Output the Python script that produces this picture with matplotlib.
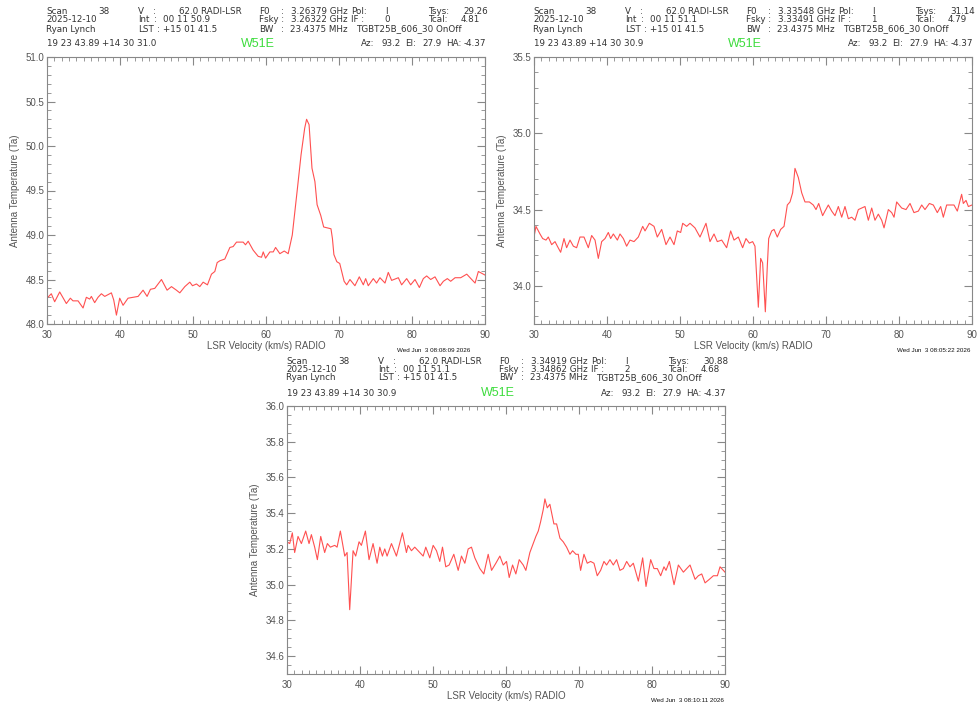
import matplotlib
matplotlib.use("Agg")
import matplotlib.pyplot as plt
from matplotlib.ticker import MultipleLocator, FormatStrFormatter

plt.rcParams['font.family'] = ['Liberation Sans', 'DejaVu Sans']

# spectrum, IF 0
vel1 = [30.00, 30.59, 31.05, 31.74, 32.65, 33.20, 33.56, 34.25, 34.94, 35.39,
        35.85, 36.08, 36.53, 36.99, 37.45, 37.91, 38.82, 39.14, 39.51, 39.96,
        40.42, 41.10, 41.79, 42.48, 43.16, 43.71, 44.17, 44.76, 45.68, 46.45,
        47.05, 47.73, 48.19, 48.88, 49.56, 49.93, 50.48, 50.93, 51.39, 51.98,
        52.53, 52.99, 53.31, 53.67, 54.36, 55.05, 55.50, 55.96, 56.87, 57.19,
        57.56, 58.24, 58.93, 59.39, 59.62, 59.94, 60.53, 60.99, 61.31, 61.90,
        62.50, 63.04, 63.60, 64.30, 64.80, 65.30, 65.56, 65.90, 66.30, 66.70,
        67.00, 67.50, 67.90, 68.90, 69.10, 69.30, 69.70, 70.10, 70.70, 71.05,
        71.50, 72.18, 72.78, 73.33, 73.65, 74.01, 74.70, 75.15, 75.61, 76.30,
        76.75, 77.21, 78.13, 78.58, 79.27, 79.82, 80.41, 81.01, 81.55, 82.01,
        82.56, 83.15, 83.84, 84.30, 84.84, 85.30, 85.90, 86.67, 87.50, 88.18,
        88.64, 89.09, 90.00]
temp1 = [48.29, 48.34, 48.25, 48.36, 48.23, 48.29, 48.26, 48.26, 48.18, 48.30,
         48.28, 48.31, 48.24, 48.30, 48.34, 48.31, 48.35, 48.27, 48.10, 48.29,
         48.21, 48.29, 48.30, 48.31, 48.38, 48.31, 48.39, 48.40, 48.50, 48.38,
         48.42, 48.38, 48.35, 48.42, 48.47, 48.43, 48.45, 48.42, 48.47, 48.44,
         48.56, 48.59, 48.69, 48.71, 48.73, 48.86, 48.87, 48.92, 48.92, 48.89,
         48.93, 48.83, 48.76, 48.75, 48.81, 48.74, 48.81, 48.81, 48.86, 48.79,
         48.82, 48.79, 49.00, 49.52, 49.90, 50.20, 50.30, 50.24, 49.75, 49.60,
         49.34, 49.22, 49.09, 49.07, 48.96, 48.78, 48.70, 48.68, 48.48, 48.44,
         48.50, 48.43, 48.53, 48.44, 48.51, 48.43, 48.51, 48.46, 48.52, 48.46,
         48.58, 48.49, 48.52, 48.44, 48.51, 48.44, 48.50, 48.41, 48.51, 48.54,
         48.50, 48.53, 48.43, 48.48, 48.51, 48.48, 48.52, 48.52, 48.56, 48.50,
         48.46, 48.59, 48.55]

# spectrum, IF 1
vel2 = [30.00, 30.27, 30.82, 31.19, 31.64, 31.96, 32.42, 32.88, 33.20, 33.65,
        34.11, 34.47, 34.93, 35.39, 35.84, 36.30, 36.85, 37.44, 37.90, 38.36,
        38.81, 39.27, 39.73, 40.18, 40.50, 40.87, 41.42, 41.78, 42.24, 42.69,
        43.15, 43.70, 44.29, 44.89, 45.21, 45.80, 46.44, 46.89, 47.49, 48.08,
        48.63, 49.18, 49.63, 50.09, 50.37, 50.91, 51.37, 52.05, 52.74, 53.56,
        54.11, 54.66, 55.11, 55.71, 56.39, 56.94, 57.40, 57.99, 58.58, 59.04,
        59.50, 59.95, 60.27, 60.73, 61.05, 61.32, 61.69, 61.96, 62.15, 62.56,
        62.88, 63.33, 63.79, 64.25, 64.70, 65.07, 65.43, 65.75, 66.21, 66.67,
        67.12, 67.72, 68.26, 68.63, 69.00, 69.54, 69.86, 70.32, 70.78, 71.23,
        71.69, 72.15, 72.60, 73.06, 73.52, 73.97, 74.43, 74.89, 75.34, 75.80,
        76.26, 76.71, 77.17, 77.63, 77.95, 78.54, 79.00, 79.32, 79.68, 80.37,
        80.96, 81.51, 82.05, 82.65, 83.11, 83.56, 84.16, 84.70, 85.25, 85.71,
        86.07, 86.53, 87.08, 87.53, 87.99, 88.58, 88.81, 89.18, 89.50, 90.00]
temp2 = [34.32, 34.39, 34.34, 34.31, 34.30, 34.32, 34.27, 34.29, 34.26, 34.22,
         34.31, 34.25, 34.30, 34.26, 34.25, 34.32, 34.32, 34.25, 34.33, 34.30,
         34.18, 34.29, 34.31, 34.35, 34.31, 34.34, 34.30, 34.34, 34.31, 34.26,
         34.30, 34.29, 34.32, 34.39, 34.36, 34.41, 34.39, 34.32, 34.37, 34.27,
         34.32, 34.27, 34.36, 34.35, 34.41, 34.39, 34.41, 34.38, 34.32, 34.41,
         34.29, 34.34, 34.29, 34.30, 34.25, 34.36, 34.30, 34.32, 34.25, 34.31,
         34.28, 34.29, 34.26, 33.86, 34.18, 34.15, 33.83, 34.13, 34.31, 34.36,
         34.37, 34.32, 34.37, 34.39, 34.53, 34.55, 34.61, 34.77, 34.71, 34.61,
         34.55, 34.55, 34.53, 34.50, 34.54, 34.46, 34.49, 34.53, 34.49, 34.46,
         34.52, 34.45, 34.52, 34.44, 34.45, 34.43, 34.50, 34.51, 34.52, 34.43,
         34.51, 34.43, 34.47, 34.43, 34.38, 34.50, 34.48, 34.45, 34.55, 34.51,
         34.50, 34.54, 34.48, 34.49, 34.53, 34.50, 34.54, 34.53, 34.48, 34.52,
         34.45, 34.53, 34.53, 34.53, 34.49, 34.60, 34.54, 34.56, 34.52, 34.53]

# spectrum, IF 2
vel3 = [30.00, 30.37, 30.73, 31.05, 31.51, 31.97, 32.56, 33.02, 33.34, 33.79,
        34.16, 34.62, 35.16, 35.53, 35.94, 36.54, 36.86, 37.31, 37.91, 38.23,
        38.59, 39.05, 39.41, 39.87, 40.19, 40.74, 41.24, 41.79, 42.34, 42.71,
        43.07, 43.39, 43.71, 44.31, 44.99, 45.81, 46.36, 46.59, 47.05, 47.50,
        48.19, 48.65, 49.01, 49.56, 50.02, 50.48, 50.93, 51.30, 51.75, 52.21,
        52.85, 53.45, 53.90, 54.36, 54.82, 55.27, 55.73, 56.42, 56.96, 57.56,
        58.02, 58.61, 59.16, 59.62, 60.07, 60.44, 60.90, 61.35, 61.81, 62.36,
        62.72, 63.27, 63.73, 64.09, 64.42, 64.73, 65.10, 65.33, 65.65, 66.01,
        66.56, 66.93, 67.39, 67.84, 68.30, 68.76, 69.12, 69.58, 69.90, 70.22,
        70.68, 71.13, 71.59, 72.05, 72.50, 72.96, 73.42, 73.78, 74.24, 74.70,
        75.15, 75.61, 76.07, 76.53, 76.98, 77.44, 78.13, 78.72, 79.18, 79.82,
        80.27, 80.73, 81.19, 81.64, 81.92, 82.38, 83.02, 83.61, 84.30, 85.21,
        85.90, 86.35, 86.81, 87.27, 87.86, 88.41, 88.96, 89.32, 90.00]
temp3 = [35.24, 35.23, 35.29, 35.18, 35.27, 35.23, 35.30, 35.23, 35.28, 35.21,
         35.14, 35.27, 35.18, 35.23, 35.21, 35.22, 35.21, 35.30, 35.16, 35.18,
         34.86, 35.19, 35.16, 35.24, 35.22, 35.30, 35.14, 35.23, 35.12, 35.21,
         35.16, 35.20, 35.16, 35.23, 35.16, 35.29, 35.18, 35.22, 35.19, 35.21,
         35.18, 35.16, 35.21, 35.15, 35.22, 35.19, 35.13, 35.21, 35.10, 35.11,
         35.17, 35.08, 35.16, 35.12, 35.20, 35.21, 35.15, 35.09, 35.06, 35.17,
         35.08, 35.12, 35.16, 35.11, 35.13, 35.04, 35.11, 35.06, 35.14, 35.11,
         35.08, 35.18, 35.23, 35.27, 35.30, 35.35, 35.42, 35.48, 35.43, 35.45,
         35.34, 35.34, 35.26, 35.24, 35.21, 35.17, 35.19, 35.17, 35.17, 35.08,
         35.17, 35.12, 35.13, 35.12, 35.05, 35.08, 35.13, 35.11, 35.14, 35.11,
         35.14, 35.08, 35.09, 35.13, 35.10, 35.12, 35.02, 35.15, 34.99, 35.14,
         35.09, 35.09, 35.05, 35.10, 35.08, 35.13, 35.00, 35.11, 35.07, 35.11,
         35.03, 35.05, 35.06, 35.01, 35.03, 35.05, 35.05, 35.10, 35.07]

# header values per IF
ifnums = ["0", "1", "2"]
ints = ["00 11 50.9", "00 11 51.1", "00 11 51.1"]
f0s = ["3.26379 GHz", "3.33548 GHz", "3.34919 GHz"]
fskys = ["3.26322 GHz", "3.33491 GHz", "3.34862 GHz"]
tsyss = ["29.26", "31.14", "30.88"]
tcals = ["4.81", "4.79", "4.68"]
decs = ["+14 30 31.0", "+14 30 30.9", "+14 30 30.9"]
stamps = ["Wed Jun  3 08:08:09 2026", "Wed Jun  3 08:05:22 2026", "Wed Jun  3 08:10:11 2026"]
ylims = [(48.0, 51.0), (33.75, 35.5), (34.5, 36.0)]
ymajor = [0.5, 0.5, 0.2]
yminor = [0.1, 0.1, 0.05]

W, H = 979, 711
fig = plt.figure(figsize=(W / 100, H / 100), dpi=100)

# axes boxes in pixels: left, top, right, bottom
boxes = [(47, 57, 485, 324), (534, 57, 972, 324), (287, 406, 725, 674)]
stamp_dx = [-15, -2, -1]

txt = '#333333'
lab = '#555555'


def put(x, y, s, **kw):
    kw.setdefault('fontsize', 6.3)
    kw.setdefault('family', 'DejaVu Sans')
    kw.setdefault('color', txt)
    kw.setdefault('va', 'center')
    fig.text(x / W, 1 - y / H, s, **kw)


data = [(vel1, temp1), (vel2, temp2), (vel3, temp3)]

for i, (vel, temp) in enumerate(data):
    l, t, r, b = boxes[i]
    ax = fig.add_axes([l / W, 1 - b / H, (r - l) / W, (b - t) / H])
    ax.plot(vel, temp, color='#ff5050', lw=0.8)
    ax.set_xlim(30, 90)
    ax.set_ylim(*ylims[i])
    ax.xaxis.set_major_locator(MultipleLocator(10))
    ax.xaxis.set_minor_locator(MultipleLocator(1))
    ax.yaxis.set_major_locator(MultipleLocator(ymajor[i]))
    ax.yaxis.set_minor_locator(MultipleLocator(yminor[i]))
    ax.yaxis.set_major_formatter(FormatStrFormatter('%.1f'))
    ax.tick_params(which='both', direction='in', top=True, right=True,
                   color='#888888', labelcolor=lab, labelsize=7)
    ax.tick_params(which='major', length=6, width=0.8)
    ax.tick_params(which='minor', length=3, width=0.6)
    ax.tick_params(axis='x', pad=4)
    ax.tick_params(axis='y', pad=2)
    for sp in ax.spines.values():
        sp.set_color('#888888')
        sp.set_linewidth(0.8)

    # axis labels
    put((l + r) / 2, b + 22, "LSR Velocity (km/s) RADIO", ha='center',
        color=lab, fontsize=7, family='Liberation Sans')
    put(l - 32, (t + b) / 2, "Antenna Temperature (Ta)", ha='center',
        rotation=90, color=lab, fontsize=7, family='Liberation Sans')

    # header block
    y1, y2, y3, y4 = t - 45, t - 37, t - 28, t - 13
    put(l - 1, y1, "Scan")
    put(l + 63, y1, "38", ha='right')
    put(l + 91, y1, "V")
    put(l + 106, y1, ":")
    put(l + 195, y1, "62.0 RADI-LSR", ha='right')
    put(l + 212, y1, "F0")
    put(l + 234, y1, ":")
    put(l + 301, y1, f0s[i], ha='right')
    put(l + 304, y1, "Pol:")
    put(l + 338, y1, "I")
    put(l + 381, y1, "Tsys:")
    put(l + 441, y1, tsyss[i], ha='right')

    put(l - 1, y2, "2025-12-10")
    put(l + 91, y2, "Int")
    put(l + 107, y2, ":")
    put(l + 116, y2, ints[i])
    put(l + 212, y2, "Fsky :")
    put(l + 301, y2, fskys[i], ha='right')
    put(l + 304, y2, "IF :")
    put(l + 337, y2, ifnums[i])
    put(l + 381, y2, "Tcal:")
    put(l + 433, y2, tcals[i], ha='right')

    put(l - 1, y3, "Ryan Lynch")
    put(l + 91, y3, "LST")
    put(l + 110, y3, ":")
    put(l + 116, y3, "+15 01 41.5")
    put(l + 212, y3, "BW")
    put(l + 234, y3, ":")
    put(l + 301, y3, "23.4375 MHz", ha='right')
    put(l + 309, y3, "TGBT25B_606_30 OnOff")

    put(l, y4, "19 23 43.89")
    put(l + 55, y4, decs[i])
    put(l + 211, y4, "W51E", ha='center', fontsize=9, color='#3ddc3d',
        family='Liberation Sans')
    put(l + 314, y4, "Az:")
    put(l + 335, y4, "93.2")
    put(l + 358, y4, "El:")
    put(l + 375, y4, "27.9")
    put(l + 399, y4, "HA:")
    put(l + 417, y4, "-4.37")

    put(r + stamp_dx[i], b + 27, stamps[i], ha='right', fontsize=4.5,
        color='#111111', family='Liberation Sans')

fig.savefig("out.png", dpi=100)
